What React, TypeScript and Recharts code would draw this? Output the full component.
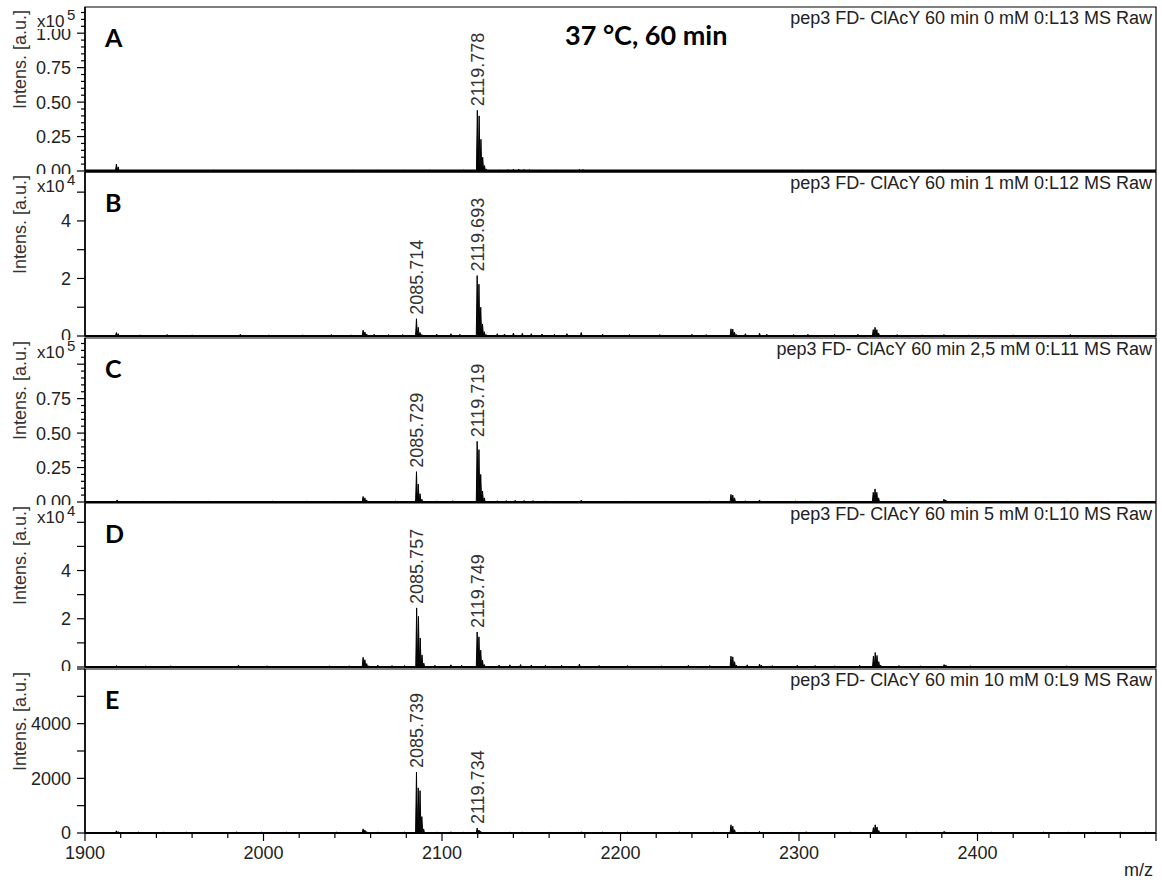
import React from "react";
import { ComposedChart, Area, Scatter, XAxis, YAxis, ReferenceArea } from "recharts";

const FONT = '"Liberation Sans", Arial, sans-serif';
const BOLD_FONT = 'Lato, "Open Sans", sans-serif';
const MZ_MIN = 1900;
const MZ_MAX = 2500;
const PANEL_H = 164;

const panelLetters = ["A", "B", "C", "D", "E"];
const panelTops = [7, 172, 338, 503, 669];
const panelTitles = [
  "pep3 FD- ClAcY 60 min 0 mM 0:L13 MS Raw",
  "pep3 FD- ClAcY 60 min 1 mM 0:L12 MS Raw",
  "pep3 FD- ClAcY 60 min 2,5 mM 0:L11 MS Raw",
  "pep3 FD- ClAcY 60 min 5 mM 0:L10 MS Raw",
  "pep3 FD- ClAcY 60 min 10 mM 0:L9 MS Raw",
];
const exponents = [5, 4, 5, 4, 0];
const yMax = [1.19, 5.7, 1.19, 6.8, 6000];
const yTickStep = [0.05, 1, 0.05, 1, 1000];
const yMajorStep = [0.25, 1, 0.25, 1, 1000];
const yLabelTicks = [[0, 0.25, 0.5, 0.75, 1], [0, 2, 4], [0, 0.25, 0.5, 0.75], [0, 2, 4], [0, 2000, 4000]];
const yDecimals = [2, 0, 2, 0, 0];
const xLabelTicks = [1900, 2000, 2100, 2200, 2300, 2400];

// [m/z, intensity] in the units shown on each panel's axis
const peaksA = [[1917.6, 0.05], [1918.6, 0.03], [2119.8, 0.44], [2120.8, 0.4], [2121.8, 0.23], [2122.8, 0.1], [2123.8, 0.04], [2124.8, 0.015]];
const peaksB = [[1917.6, 0.12], [1918.6, 0.08], [2055.8, 0.2], [2056.8, 0.14], [2057.8, 0.07], [2085.7, 0.6], [2086.7, 0.3], [2087.7, 0.12], [2088.7, 0.05], [2119.7, 2.1], [2120.7, 1.8], [2121.7, 1.0], [2122.7, 0.42], [2123.7, 0.15], [2124.7, 0.05], [2261.9, 0.25], [2262.9, 0.24], [2263.9, 0.13], [2264.9, 0.05], [2277.9, 0.1], [2341.6, 0.22], [2342.6, 0.3], [2343.6, 0.22], [2344.6, 0.1], [2381.2, 0.05]];
const peaksC = [[1918, 0.015], [2055.8, 0.04], [2056.8, 0.03], [2057.8, 0.015], [2085.7, 0.22], [2086.7, 0.13], [2087.7, 0.06], [2088.7, 0.02], [2119.7, 0.44], [2120.7, 0.38], [2121.7, 0.2], [2122.7, 0.08], [2123.7, 0.03], [2261.9, 0.055], [2262.9, 0.05], [2263.9, 0.03], [2277.9, 0.015], [2341.6, 0.07], [2342.6, 0.095], [2343.6, 0.07], [2344.6, 0.03], [2381.2, 0.02], [2382.2, 0.015]];
const peaksD = [[1917.6, 0.06], [1918.6, 0.04], [2055.8, 0.4], [2056.8, 0.3], [2057.8, 0.14], [2058.8, 0.05], [2085.8, 2.45], [2086.8, 2.1], [2087.8, 1.2], [2088.8, 0.5], [2089.8, 0.16], [2119.7, 1.45], [2120.7, 1.25], [2121.7, 0.7], [2122.7, 0.28], [2123.7, 0.1], [2261.9, 0.45], [2262.9, 0.42], [2263.9, 0.22], [2264.9, 0.08], [2277.9, 0.12], [2278.9, 0.08], [2341.7, 0.45], [2342.7, 0.6], [2343.7, 0.48], [2344.7, 0.22], [2345.7, 0.08], [2381.3, 0.1], [2382.3, 0.08], [2450, 0.05]];
const peaksE = [[1917.6, 80], [1918.6, 50], [2055.8, 150], [2056.8, 110], [2057.8, 50], [2085.7, 2230], [2086.7, 1650], [2087.7, 1550], [2088.7, 600], [2089.7, 150], [2119.7, 180], [2120.7, 110], [2121.7, 60], [2261.9, 300], [2262.9, 250], [2263.9, 120], [2277.9, 60], [2341.7, 200], [2342.7, 300], [2343.7, 220], [2344.7, 90], [2381.3, 60], [2382.3, 40]];

const noiseA = [[1926, 0.004], [1941, 0.005], [1955, 0.004], [1972, 0.005], [1988, 0.006], [2004, 0.004], [2019, 0.005], [2036, 0.004], [2050, 0.005], [2064, 0.006], [2079, 0.005], [2093, 0.006], [2104, 0.005], [2112, 0.006], [2132, 0.008], [2137, 0.01], [2140, 0.013], [2143, 0.014], [2146, 0.011], [2149, 0.01], [2155, 0.008], [2164, 0.006], [2171, 0.007], [2177, 0.012], [2179, 0.01], [2192, 0.005], [2207, 0.005], [2226, 0.005], [2240, 0.006], [2262, 0.007], [2281, 0.005], [2302, 0.005], [2319, 0.004], [2342, 0.006], [2361, 0.004], [2381, 0.005], [2404, 0.004], [2428, 0.004], [2451, 0.005], [2474, 0.004], [2493, 0.004]];
const noiseB = [[1931, 0.04], [1946, 0.05], [1960, 0.04], [1987, 0.06], [2003, 0.04], [2022, 0.04], [2038, 0.05], [2049, 0.04], [2062, 0.06], [2070, 0.05], [2078, 0.05], [2097, 0.07], [2105, 0.08], [2110, 0.06], [2131, 0.08], [2135, 0.07], [2140, 0.1], [2145, 0.09], [2150, 0.08], [2156, 0.07], [2163, 0.06], [2170, 0.08], [2178, 0.12], [2190, 0.06], [2205, 0.05], [2222, 0.05], [2240, 0.06], [2248, 0.05], [2270, 0.08], [2282, 0.06], [2297, 0.05], [2305, 0.06], [2320, 0.05], [2333, 0.06], [2355, 0.05], [2369, 0.04], [2395, 0.04], [2420, 0.04], [2452, 0.05], [2475, 0.04], [2490, 0.03]];
const noiseC = [[1933, 0.006], [1950, 0.005], [1969, 0.005], [1987, 0.007], [2005, 0.005], [2024, 0.005], [2040, 0.006], [2049, 0.005], [2065, 0.007], [2074, 0.006], [2097, 0.008], [2106, 0.009], [2111, 0.007], [2131, 0.009], [2136, 0.01], [2141, 0.012], [2146, 0.011], [2151, 0.01], [2158, 0.008], [2166, 0.007], [2178, 0.013], [2189, 0.007], [2203, 0.006], [2221, 0.006], [2239, 0.007], [2250, 0.006], [2270, 0.009], [2284, 0.007], [2298, 0.006], [2307, 0.008], [2318, 0.006], [2332, 0.007], [2356, 0.006], [2370, 0.005], [2396, 0.005], [2419, 0.005], [2450, 0.008], [2473, 0.005], [2490, 0.004]];
const noiseD = [[1934, 0.05], [1948, 0.05], [1966, 0.04], [1986, 0.08], [2002, 0.05], [2021, 0.04], [2037, 0.05], [2048, 0.05], [2064, 0.08], [2072, 0.06], [2079, 0.06], [2096, 0.07], [2105, 0.09], [2111, 0.07], [2132, 0.08], [2138, 0.09], [2144, 0.1], [2150, 0.08], [2158, 0.07], [2167, 0.07], [2177, 0.12], [2188, 0.06], [2204, 0.06], [2223, 0.05], [2238, 0.07], [2250, 0.06], [2271, 0.09], [2285, 0.06], [2299, 0.07], [2309, 0.06], [2320, 0.05], [2334, 0.07], [2356, 0.06], [2368, 0.05], [2396, 0.05], [2421, 0.04], [2473, 0.04], [2491, 0.04]];
const noiseE = [[1930, 30], [1944, 40], [1957, 30], [1971, 35], [1985, 45], [1999, 30], [2013, 30], [2027, 35], [2041, 30], [2049, 35], [2064, 40], [2072, 35], [2079, 30], [2097, 40], [2105, 45], [2112, 40], [2130, 35], [2138, 40], [2145, 40], [2153, 35], [2161, 30], [2171, 35], [2178, 45], [2190, 30], [2204, 30], [2219, 35], [2233, 30], [2243, 35], [2252, 30], [2270, 40], [2284, 35], [2296, 40], [2304, 45], [2317, 35], [2329, 30], [2336, 35], [2355, 35], [2366, 30], [2393, 30], [2408, 30], [2422, 35], [2437, 30], [2451, 40], [2466, 30], [2480, 30], [2494, 30]];

// labelled peaks: [m/z, intensity at the peak top]
const labelsA = [[2119.778, 0.44]];
const labelsB = [[2085.714, 0.6], [2119.693, 2.1]];
const labelsC = [[2085.729, 0.22], [2119.719, 0.44]];
const labelsD = [[2085.757, 2.45], [2119.749, 1.45]];
const labelsE = [[2085.739, 2230], [2119.734, 180]];

const allPeaks = [peaksA, peaksB, peaksC, peaksD, peaksE];
const allNoise = [noiseA, noiseB, noiseC, noiseD, noiseE];
const allLabels = [labelsA, labelsB, labelsC, labelsD, labelsE];
const axisWidths = [3, 2, 2, 2, 2];

function toStickPoints(peaks: number[][], noise: number[][]) {
  const sticks = [...peaks, ...noise].sort((a, b) => a[0] - b[0]);
  const pts = [{ mz: MZ_MIN, h: 0 }];
  sticks.forEach(([mz, h]) => {
    pts.push({ mz: mz - 0.5, h: 0 }, { mz, h }, { mz: mz + 0.5, h: 0 });
  });
  pts.push({ mz: MZ_MAX, h: 0 });
  return pts;
}

function makeTicks(max: number, step: number) {
  const out: number[] = [];
  for (let i = 0; i * step <= max + 1e-9; i++) out.push(+(i * step).toFixed(4));
  return out;
}

const xTicks = makeTicks(MZ_MAX - MZ_MIN, 20).map((v) => v + MZ_MIN);

function YTick(props: any) {
  const { x, y, payload, labels, decimals, majorStep } = props;
  const v = payload.value;
  const r = v / majorStep;
  const major = Math.abs(r - Math.round(r)) < 1e-6;
  const labelled = labels.some((l: number) => Math.abs(l - v) < 1e-6);
  const len = major ? 8 : 4;
  return (
    <g>
      <line x1={x - len} x2={x} y1={y} y2={y} stroke="#000" strokeWidth={1.2} />
      {labelled && (
        <text x={x - 14} y={y} dy="0.36em" textAnchor="end" fontSize={18} fontFamily={FONT} fill="#222">
          {v.toFixed(decimals)}
        </text>
      )}
    </g>
  );
}

function XTick(props: any) {
  const { x, y, payload } = props;
  const v = payload.value;
  const major = v % 100 === 0;
  return (
    <g>
      <line x1={x} x2={x} y1={y} y2={y + (major ? 8 : 5)} stroke="#000" strokeWidth={1.2} />
      {xLabelTicks.includes(v) && (
        <text x={x} y={y + 26} textAnchor="middle" fontSize={18} fontFamily={FONT} fill="#222">
          {v}
        </text>
      )}
    </g>
  );
}

function PeakLabel(props: any) {
  const { cx, cy, payload } = props;
  const y0 = cy - 4;
  return (
    <text x={cx} y={y0} dy="0.36em" transform={`rotate(-90 ${cx} ${y0})`} textAnchor="start" fontSize={18} fontFamily={FONT} fill="#333">
      {payload.text}
    </text>
  );
}

function Panel({ i }: { i: number }) {
  const last = i === 4;
  const data = toStickPoints(allPeaks[i], allNoise[i]);
  const labelData = allLabels[i].map(([mz, h]) => ({ mz, h, text: mz.toFixed(3) }));
  const xAxisH = last ? 47 : 4;
  const height = 1 + PANEL_H + xAxisH;
  return (
    <div style={{ position: "absolute", left: 0, top: panelTops[i] - 1, width: 1162, height }}>
      <ComposedChart width={1162} height={height} data={data} margin={{ top: 1, right: 6, bottom: 0, left: 0 }}>
        <XAxis
          type="number"
          dataKey="mz"
          domain={[MZ_MIN, MZ_MAX]}
          allowDataOverflow
          height={xAxisH}
          ticks={last ? xTicks : []}
          interval={0}
          tick={last ? <XTick /> : false}
          tickLine={false}
          tickSize={0}
          tickMargin={0}
          axisLine={{ stroke: "#000", strokeWidth: axisWidths[i] }}
        />
        <YAxis
          type="number"
          width={85}
          domain={[0, yMax[i]]}
          allowDataOverflow
          ticks={makeTicks(yMax[i], yTickStep[i])}
          interval={0}
          tick={<YTick labels={yLabelTicks[i]} decimals={yDecimals[i]} majorStep={yMajorStep[i]} />}
          tickLine={false}
          tickSize={0}
          tickMargin={0}
          axisLine={{ stroke: "#000", strokeWidth: 1.5 }}
        />
        <ReferenceArea x1={MZ_MIN} x2={MZ_MAX} y1={0} y2={yMax[i]} fill="none" stroke="#000" strokeWidth={1.2} ifOverflow="visible" />
        <Area
          type="linear"
          dataKey="h"
          stroke="#000"
          strokeWidth={1}
          fill="#000"
          fillOpacity={1}
          dot={false}
          activeDot={false}
          isAnimationActive={false}
        />
        <Scatter data={labelData} dataKey="h" shape={<PeakLabel />} isAnimationActive={false} />
      </ComposedChart>
    </div>
  );
}

function Overlay() {
  return (
    <svg width={1162} height={880} style={{ position: "absolute", left: 0, top: 0, pointerEvents: "none" }}>
      {panelTops.map((t, i) => (
        <g key={i}>
          {exponents[i] > 0 && (
            <g>
              <rect x={33} y={t + 2} width={44} height={20} fill="#fff" />
              <text x={37} y={t + 20} fontSize={17} fontFamily={FONT} fill="#222">
                x10
              </text>
              <text x={67} y={t + 13} fontSize={15} fontFamily={FONT} fill="#222">
                {exponents[i]}
              </text>
            </g>
          )}
          <text
            x={26}
            y={t + 3}
            transform={`rotate(-90 26 ${t + 3})`}
            textAnchor="end"
            fontSize={18}
            fontFamily={FONT}
            fill="#333"
          >
            Intens. [a.u.]
          </text>
          <text x={105} y={t + 40} fontSize={25} fontWeight={700} fontFamily={BOLD_FONT} fill="#000">
            {panelLetters[i]}
          </text>
          <text x={1152} y={t + 17} textAnchor="end" fontSize={18} fontFamily={FONT} fill="#222">
            {panelTitles[i]}
          </text>
        </g>
      ))}
      <text x={565} y={45} fontSize={27} fontWeight={700} fontFamily={BOLD_FONT} fill="#000">
        37 °C, 60 min
      </text>
      <text x={1153} y={876} textAnchor="end" fontSize={18} fontFamily={FONT} fill="#222">
        m/z
      </text>
    </svg>
  );
}

export default function App() {
  return (
    <div style={{ position: "absolute", left: 0, top: 0, width: 1162, height: 880, background: "#fff", overflow: "hidden" }}>
      {[0, 1, 2, 3, 4].map((i) => (
        <Panel key={i} i={i} />
      ))}
      <Overlay />
    </div>
  );
}
